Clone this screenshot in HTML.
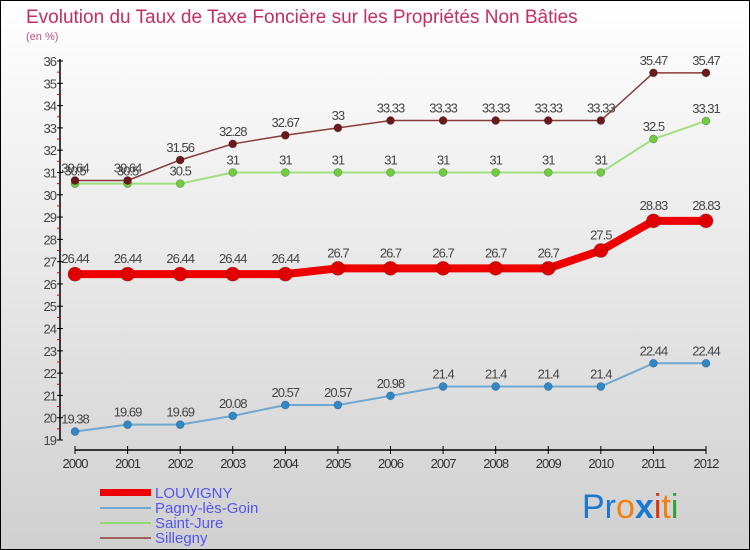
<!DOCTYPE html>
<html><head><meta charset="utf-8"><style>
body{margin:0;}
#wrap{width:750px;height:550px;position:relative;overflow:hidden;}
svg text{font-family:"Liberation Sans",sans-serif;}
</style></head><body>
<div id="wrap">
<svg id="chart" width="750" height="550" xmlns="http://www.w3.org/2000/svg">
<defs><linearGradient id="bg" x1="0" y1="0" x2="0" y2="1"><stop offset="0" stop-color="#ffffff"/><stop offset="1" stop-color="#d0d0d0"/></linearGradient></defs>
<rect x="0.5" y="0.5" width="749" height="549" fill="url(#bg)" stroke="#000"/>
<text x="26" y="23" font-size="19" fill="#c03060">Evolution du Taux de Taxe Foncière sur les Propriétés Non Bâties</text>
<text x="26" y="40" font-size="11" fill="#c05080">(en %)</text>
<g id="axes"></g>
<g id="series"></g>
<g>
<rect x="100" y="489" width="51" height="7" fill="#ee0000"/>
<text x="155" y="498" font-size="15" fill="#5555ee">LOUVIGNY</text>
<rect x="100" y="507" width="51" height="2" fill="#6fa8d0"/>
<text x="155" y="513" font-size="15" fill="#5555ee">Pagny-lès-Goin</text>
<rect x="100" y="522" width="51" height="2" fill="#90d870"/>
<text x="155" y="528" font-size="15" fill="#5555ee">Saint-Jure</text>
<rect x="100" y="537" width="51" height="2" fill="#a06060"/>
<text x="155" y="543" font-size="15" fill="#5555ee">Sillegny</text>
</g>
<g font-size="34" font-family="Liberation Sans,sans-serif">
<text x="582" y="518"><tspan fill="#1a78d0">Pr</tspan><tspan fill="#f08010">o</tspan><tspan fill="#1a78d0" font-weight="bold">x</tspan><tspan fill="#e03010">i</tspan><tspan fill="#f08010">t</tspan><tspan fill="#30a030">i</tspan></text>
</g>
</svg>
</div>
<script>
const years=[2000,2001,2002,2003,2004,2005,2006,2007,2008,2009,2010,2011,2012];
const louvigny=[26.44,26.44,26.44,26.44,26.44,26.7,26.7,26.7,26.7,26.7,27.5,28.83,28.83];
const pagny=[19.38,19.69,19.69,20.08,20.57,20.57,20.98,21.4,21.4,21.4,21.4,22.44,22.44];
const saintJure=[30.5,30.5,30.5,31,31,31,31,31,31,31,31,32.5,33.31];
const sillegny=[30.64,30.64,31.56,32.28,32.67,33,33.33,33.33,33.33,33.33,33.33,35.47,35.47];
const yTicks=[19,20,21,22,23,24,25,26,27,28,29,30,31,32,33,34,35,36];
const NS="http://www.w3.org/2000/svg";
const yMin=19,yMax=36,yTop=61,yBot=440,xL=75,xR=706;
function X(i){return xL+(xR-xL)*i/(years.length-1);}
function Y(v){return yBot-(v-yMin)*(yBot-yTop)/(yMax-yMin);}
function mk(tag,a,parent){const e=document.createElementNS(NS,tag);for(const k in a)e.setAttribute(k,a[k]);parent.appendChild(e);return e;}
const axes=document.getElementById('axes');
const ya=mk('line',{x1:60,y1:yTop-2,x2:60,y2:yBot,stroke:'#000','stroke-width':1.5},axes);


yTicks.forEach(v=>{
 const y=Y(v);
 mk('line',{x1:57,y1:y,x2:63,y2:y,stroke:'#000'},axes);
 const t=mk('text',{x:56,y:y+5,'font-size':13,fill:'#444','text-anchor':'end','letter-spacing':'-1'},axes);
 t.textContent=v;
 
 
 if(v<yMax){mk('line',{x1:57,y1:Y(v+0.5),x2:60,y2:Y(v+0.5),stroke:'#e00000'},axes);}
});
const xa=mk('line',{x1:xL,y1:450,x2:xR,y2:450,stroke:'#000','stroke-width':1.5},axes);


years.forEach((yr,i)=>{
 mk('line',{x1:X(i),y1:446,x2:X(i),y2:454,stroke:'#000'},axes);
 const t=mk('text',{x:X(i),y:468,'font-size':13,fill:'#333','text-anchor':'middle','letter-spacing':'-1'},axes);
 t.textContent=yr;
 
 
});
const sg=document.getElementById('series');
function drawSeries(vals,name,color,dot,w,r){
 const g=mk('g',{},sg);
 
 
 const pl=mk('polyline',{points:vals.map((v,i)=>X(i)+','+Y(v)).join(' '),fill:'none',stroke:color,'stroke-width':w,'stroke-linejoin':'round'},g);
 
 
 vals.forEach((v,i)=>{
  const c=mk('circle',{cx:X(i),cy:Y(v),r:r,fill:dot,stroke:'rgba(0,0,0,0.25)','stroke-width':0.7},g);
  
  
  const t=mk('text',{x:X(i),y:Y(v)-r-4,'font-size':13,fill:'#444','text-anchor':'middle','letter-spacing':'-1'},g);
  t.textContent=v;
  
  
 });
}
drawSeries(pagny,'pagny-les-goin','#6fa8d0','#2f88c8',2,4);
drawSeries(saintJure,'saint-jure','#a0e080','#70cc40',2,4);
drawSeries(sillegny,'sillegny','#8a3a3a','#6a1a1a',1.5,4);
drawSeries(louvigny,'louvigny','#ee0000','#e00000',8,7);
</script>
</body></html>
